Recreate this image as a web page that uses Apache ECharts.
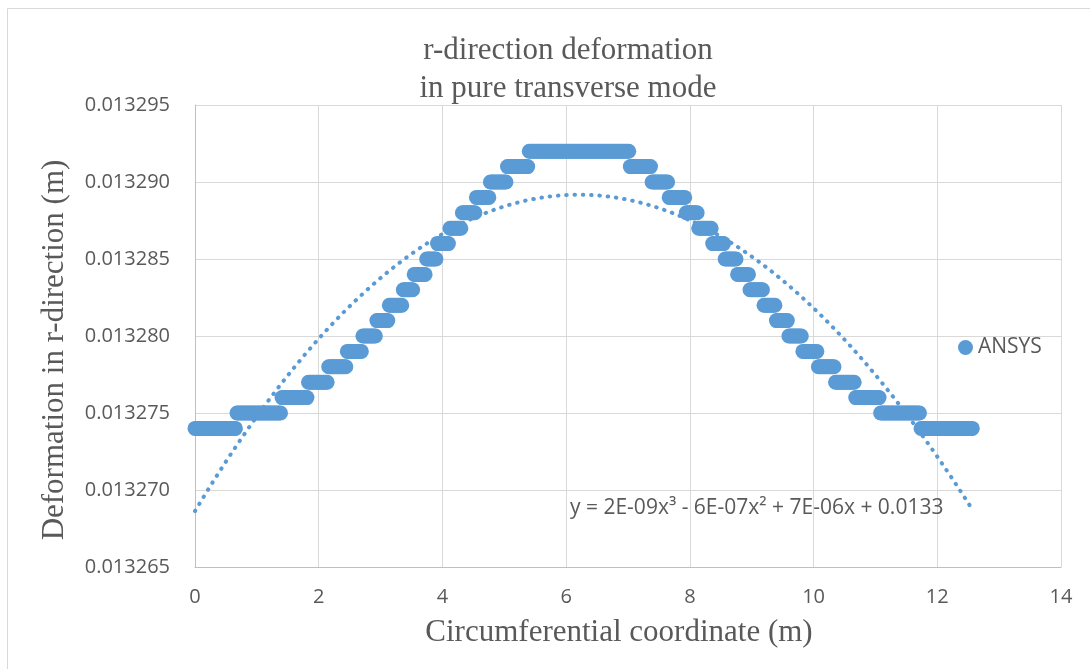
<!DOCTYPE html>
<html>
<head>
<meta charset="utf-8">
<script src="https://cdn.jsdelivr.net/npm/echarts@6/dist/echarts.min.js"></script>
<style>
  html, body { margin: 0; padding: 0; background: #ffffff; }
  #chart { width: 1090px; height: 669px; }
</style>
</head>
<body>
<div id="chart"></div>
<script>
// Radial deformation along the circumference (ANSYS nodal results)
const seriesName = 'ANSYS';
const nodeSpacing = 0.025133; // arc length between neighbouring nodes (m)

// Nodal values come in runs of equal deformation: value of each run and number of nodes in it
const stepValues = [
  0.013274, 0.013275, 0.013276, 0.013277, 0.013278, 0.013279, 0.013280, 0.013281, 0.013282,
  0.013283, 0.013284, 0.013285, 0.013286, 0.013287, 0.013288, 0.013289, 0.013290, 0.013291,
  0.013292,
  0.013291, 0.013290, 0.013289, 0.013288, 0.013287, 0.013286, 0.013285, 0.013284, 0.013283,
  0.013282, 0.013281, 0.013280, 0.013279, 0.013278, 0.013277, 0.013276, 0.013275, 0.013274
];
const nodesPerStep = [
  27, 29, 17, 13, 12, 10, 9, 8, 9,
  7, 8, 7, 8, 8, 9, 9, 11, 14,
  65,
  14, 11, 11, 8, 9, 8, 8, 8, 9,
  8, 8, 9, 10, 11, 13, 16, 26, 34
];

const xTicks = [0, 2, 4, 6, 8, 10, 12, 14];
const yTicks = [0.013265, 0.013270, 0.013275, 0.013280, 0.013285, 0.013290, 0.013295];

// Expand runs into (coordinate, deformation) pairs
const points = [];
let node = 0;
stepValues.forEach(function (v, i) {
  for (let k = 0; k < nodesPerStep[i]; k++) {
    points.push([+(node * nodeSpacing).toFixed(5), v]);
    node++;
  }
});

// Least-squares polynomial trendline of order 3
function cubicFit(pts) {
  const yMean = pts.reduce(function (s, p) { return s + p[1]; }, 0) / pts.length;
  const scale = 1e6;
  const A = [[0, 0, 0, 0], [0, 0, 0, 0], [0, 0, 0, 0], [0, 0, 0, 0]];
  const b = [0, 0, 0, 0];
  pts.forEach(function (p) {
    const x = p[0], r = (p[1] - yMean) * scale;
    const pw = [1, x, x * x, x * x * x];
    for (let i = 0; i < 4; i++) {
      b[i] += pw[i] * r;
      for (let j = 0; j < 4; j++) A[i][j] += pw[i] * pw[j];
    }
  });
  for (let i = 0; i < 4; i++) {
    let p = i;
    for (let r = i + 1; r < 4; r++) if (Math.abs(A[r][i]) > Math.abs(A[p][i])) p = r;
    let t = A[i]; A[i] = A[p]; A[p] = t;
    t = b[i]; b[i] = b[p]; b[p] = t;
    for (let r = i + 1; r < 4; r++) {
      const f = A[r][i] / A[i][i];
      for (let c = i; c < 4; c++) A[r][c] -= f * A[i][c];
      b[r] -= f * b[i];
    }
  }
  const c = [0, 0, 0, 0];
  for (let i = 3; i >= 0; i--) {
    let s = b[i];
    for (let j = i + 1; j < 4; j++) s -= A[i][j] * c[j];
    c[i] = s / A[i][i];
  }
  return [yMean + c[0] / scale, c[1] / scale, c[2] / scale, c[3] / scale];
}

const coef = cubicFit(points);
function trendAt(x) { return coef[0] + coef[1] * x + coef[2] * x * x + coef[3] * x * x * x; }

const xEnd = points[points.length - 1][0];
const trendPoints = [];
for (let i = 0; i <= 300; i++) {
  const x = xEnd * i / 300;
  trendPoints.push([x, trendAt(x)]);
}

// Equation text in spreadsheet style
function sci(v) {
  const parts = Math.abs(v).toExponential(0).split('e');
  const e = parseInt(parts[1], 10);
  return parts[0] + 'E' + (e < 0 ? '-' : '+') + String(Math.abs(e)).padStart(2, '0');
}
function signed(v, first) {
  if (first) return v < 0 ? '-' : '';
  return v < 0 ? ' - ' : ' + ';
}
const equation = 'y = ' + signed(coef[3], true) + sci(coef[3]) + 'x\u00B3' +
  signed(coef[2]) + sci(coef[2]) + 'x\u00B2' +
  signed(coef[1]) + sci(coef[1]) + 'x' +
  signed(coef[0]) + Number(Math.abs(coef[0]).toPrecision(3));

const blue = '#5B9BD5';
const textGray = '#595959';
const sans = '"Open Sans", "Liberation Sans", sans-serif';
const serif = '"Liberation Serif", "DejaVu Serif", serif';

const chart = echarts.init(document.getElementById('chart'), null, { renderer: 'canvas' });
chart.setOption({
  backgroundColor: '#ffffff',
  animation: false,
  grid: { left: 195, right: 29, top: 105, bottom: 102, containLabel: false },
  legend: {
    data: [seriesName],
    left: 953,
    top: 332,
    icon: 'circle',
    itemWidth: 15,
    itemHeight: 15,
    itemGap: 5,
    textStyle: { fontFamily: sans, fontSize: 21, color: textGray }
  },
  xAxis: {
    type: 'value',
    min: xTicks[0],
    max: xTicks[xTicks.length - 1],
    interval: xTicks[1] - xTicks[0],
    axisLine: { show: true, lineStyle: { color: '#bfbfbf', width: 1 } },
    axisTick: { show: false },
    splitLine: { show: true, lineStyle: { color: '#d9d9d9', width: 1 } },
    axisLabel: { margin: 20, fontFamily: sans, fontSize: 20, color: textGray }
  },
  yAxis: {
    type: 'value',
    min: yTicks[0],
    max: yTicks[yTicks.length - 1],
    interval: 0.000005,
    axisLine: { show: true, lineStyle: { color: '#bfbfbf', width: 1 } },
    axisTick: { show: false },
    splitLine: { show: true, lineStyle: { color: '#d9d9d9', width: 1 } },
    axisLabel: {
      margin: 25, fontFamily: sans, fontSize: 20, color: textGray,
      formatter: function (v) { return v.toFixed(6); }
    }
  },
  graphic: [
    {
      type: 'rect', silent: true, z: -10,
      shape: { x: 7.5, y: 8.5, width: 1100, height: 700 },
      style: { fill: 'none', stroke: '#d9d9d9', lineWidth: 1 }
    },
    {
      type: 'text', silent: true,
      x: 568, y: 51,
      style: {
        text: 'r-direction deformation', font: '31px ' + serif, fill: textGray,
        textAlign: 'center', textVerticalAlign: 'middle'
      }
    },
    {
      type: 'text', silent: true,
      x: 568, y: 89,
      style: {
        text: 'in pure transverse mode', font: '31px ' + serif, fill: textGray,
        textAlign: 'center', textVerticalAlign: 'middle'
      }
    },
    {
      type: 'text', silent: true,
      x: 619, y: 633,
      style: {
        text: 'Circumferential coordinate (m)', font: '31px ' + serif, fill: textGray,
        textAlign: 'center', textVerticalAlign: 'middle'
      }
    },
    {
      type: 'text', silent: true,
      x: 55, y: 350, rotation: Math.PI / 2,
      style: {
        text: 'Deformation in r-direction (m)', font: '31px ' + serif, fill: textGray,
        textAlign: 'center', textVerticalAlign: 'middle'
      }
    },
    {
      type: 'text', silent: true, z: 10,
      x: 570, y: 508,
      style: {
        text: equation, font: '21px ' + sans, fill: textGray,
        textAlign: 'left', textVerticalAlign: 'middle'
      }
    }
  ],
  series: [
    {
      name: seriesName,
      type: 'scatter',
      data: points,
      symbol: 'circle',
      symbolSize: 15,
      itemStyle: { color: blue, opacity: 1 },
      z: 2
    },
    {
      name: 'Poly. (' + seriesName + ')',
      type: 'line',
      data: trendPoints,
      showSymbol: false,
      symbol: 'none',
      smooth: false,
      lineStyle: { color: blue, width: 4, type: [0.5, 7.8], cap: 'round' },
      z: 3,
      silent: true
    }
  ]
});
</script>
</body>
</html>
